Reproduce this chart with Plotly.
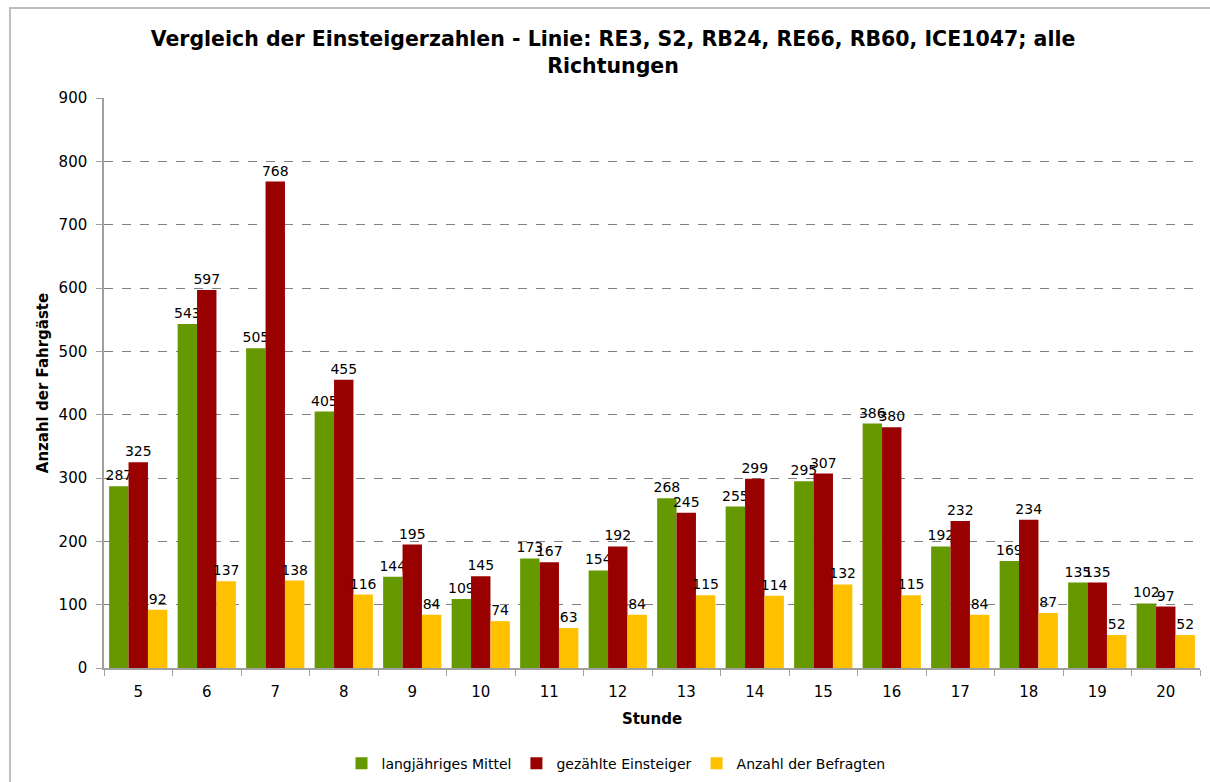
import plotly.graph_objects as go

stunden = ["5", "6", "7", "8", "9", "10", "11", "12", "13", "14", "15", "16", "17", "18", "19", "20"]
mittel = [287, 543, 505, 405, 144, 109, 173, 154, 268, 255, 295, 386, 192, 169, 135, 102]
gezaehlt = [325, 597, 768, 455, 195, 145, 167, 192, 245, 299, 307, 380, 232, 234, 135, 97]
befragt = [92, 137, 138, 116, 84, 74, 63, 84, 115, 114, 132, 115, 84, 87, 52, 52]

names = ["langjähriges Mittel", "gezählte Einsteiger", "Anzahl der Befragten"]
colors = ["#669900", "#990000", "#FFC000"]
series = [mittel, gezaehlt, befragt]

fig = go.Figure()
for n, c, v in zip(names, colors, series):
    fig.add_trace(go.Bar(
        x=stunden, y=v, name=n, marker=dict(color=c, line=dict(width=0)),
        text=[str(a) for a in v], textposition="outside", textangle=0,
        constraintext="none",
        textfont=dict(size=14, color="black", family="DejaVu Sans"),
        cliponaxis=False,
    ))

fig.update_layout(
    width=1210, height=782,
    barmode="group", bargap=0.15, bargroupgap=0,
    plot_bgcolor="white", paper_bgcolor="white",
    font=dict(family="DejaVu Sans", size=15, color="black"),
    margin=dict(l=104, r=10, t=98, b=114, autoexpand=False),
    title=dict(
        text="<b>Vergleich der Einsteigerzahlen - Linie: RE3, S2, RB24, RE66, RB60, ICE1047; alle<br>Richtungen</b>",
        x=(613 - 104) / 1096, xanchor="center", xref="paper", y=0.941, yanchor="middle",
        font=dict(size=20.5, family="DejaVu Sans"),
    ),
    xaxis=dict(
        type="category", tickson="boundaries", ticks="outside", ticklen=6,
        tickcolor="#A0A0A0", showline=True, linecolor="#A0A0A0", linewidth=1.5,
        tickfont=dict(size=15), ticklabelstandoff=9,
        title=dict(text="<b>Stunde</b>", font=dict(size=15), standoff=14),
        automargin=False,
    ),
    yaxis=dict(
        range=[0, 900], dtick=100, ticks="outside", ticklen=6, tickcolor="#A0A0A0",
        showline=True, linecolor="#A0A0A0", linewidth=1.5,
        showgrid=True, gridcolor="#808080", griddash="dash", gridwidth=1,
        zeroline=False, tickfont=dict(size=15), ticklabelstandoff=6,
        title=dict(text="<b>Anzahl der Fahrgäste</b>", font=dict(size=15), standoff=6),
        automargin=False,
    ),
    legend=dict(
        orientation="h", x=(616 - 104) / 1096, xanchor="center", y=-0.168, yanchor="middle",
        font=dict(size=14), itemwidth=30, traceorder="normal",
    ),
    shapes=[dict(
        type="rect", xref="paper", yref="paper",
        x0=(10 - 104) / 1096, x1=(1215 - 104) / 1096,
        y0=(668 - 790) / 570, y1=(668 - 8) / 570,
        line=dict(color="#BFBFBF", width=2), fillcolor="rgba(0,0,0,0)", layer="below",
    )],
)

fig.write_html("out.html", config={"displayModeBar": False},
               post_script="document.body.style.margin='0';document.body.style.padding='0';")
